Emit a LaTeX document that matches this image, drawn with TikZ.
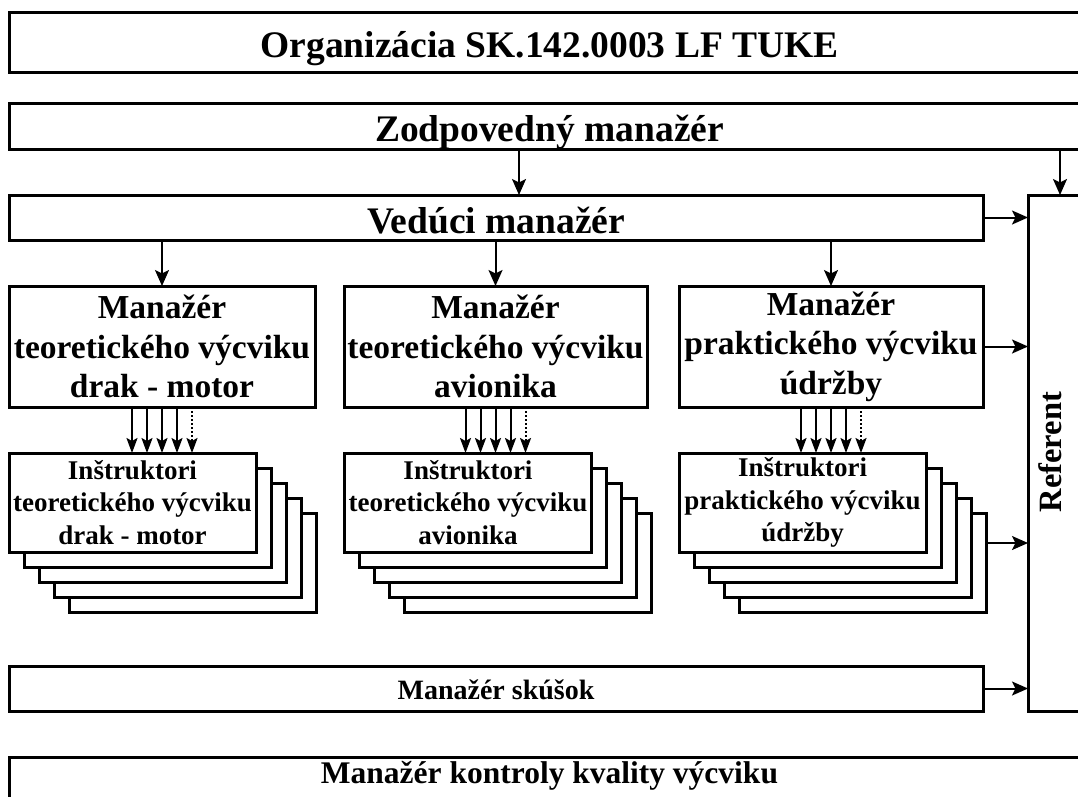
\documentclass[tikz,border=0pt]{standalone}
\usepackage{fontspec}
\setmainfont{Liberation Serif}
\usetikzlibrary{arrows.meta,calc}
\begin{document}
\begin{tikzpicture}[x=1pt,y=-1pt,
  box/.style={draw, line width=3pt, fill=white, rectangle, inner sep=0pt, outer sep=0pt, align=center},
  arr/.style={line width=2pt, -{Stealth[length=16pt,width=14pt,inset=3.5pt]}},
  sarr/.style={line width=2pt, -{Stealth[length=15pt,width=11pt,inset=3pt]}},
  dotarr/.style={sarr, dash pattern=on 2pt off 2pt},
  fbig/.style={font=\fontsize{37.5}{45}\selectfont\bfseries, text height=33pt, text depth=1.6pt},
  fmgr/.style={font=\fontsize{33.5}{39.5}\selectfont\bfseries},
  fins/.style={font=\fontsize{27}{32.5}\selectfont\bfseries},
  fmid/.style={font=\fontsize{28}{33}\selectfont\bfseries, text height=23pt, text depth=2pt},
  fkon/.style={font=\fontsize{31.5}{37}\selectfont\bfseries},
  fref/.style={font=\fontsize{32.5}{38}\selectfont\bfseries},
]
\useasboundingbox (0,0) rectangle (1078,796);
\fill[white] (0,0) rectangle (1078,796);
\clip (0,0) rectangle (1078,796);

% top boxes
\node[box, fbig, minimum width=1081pt, minimum height=60pt] (org) at (549.5,42) {Organizácia SK.142.0003 LF TUKE};
\node[box, fbig, minimum width=1081pt, minimum height=46pt] (zm) at (549.5,126) {Zodpovedný manažér};
\node[box, fbig, minimum width=974pt, minimum height=45pt] (vm) at (496,217.5) {Vedúci manažér};

% referent
\node[box, minimum width=62pt, minimum height=516pt] (ref) at (1059,453) {};
\node[fref, rotate=90] (reft) at (1050,452) {Referent};

% managers
\node[box, fmgr, minimum width=306pt, minimum height=121pt] (m1) at (162,346.5) {Manažér\\teoretického výcviku\\drak - motor};
\node[box, fmgr, minimum width=303pt, minimum height=121pt] (m2) at (495.5,346.5) {Manažér\\teoretického výcviku\\avionika};
\node[box, fmgr, minimum width=304pt, minimum height=121pt] (m3) at (831,346.5) {Manažér\\praktického výcviku\\údržby};

% instructor stacks
\foreach \n/\cx in {1/132.5, 2/468, 3/802.5}{
  \foreach \k in {4,3,2,1}{
    \node[box, minimum width=247pt, minimum height=99pt] (i\n l\k) at (\cx+15*\k, 502.5+15*\k) {};
  }
}
\node[box, fins, minimum width=247pt, minimum height=99pt] (i1) at (132.5,502.5) {Inštruktori\\teoretického výcviku\\drak - motor};
\node[box, fins, minimum width=247pt, minimum height=99pt] (i2) at (468,502.5) {Inštruktori\\teoretického výcviku\\avionika};
\node[box, fins, minimum width=247pt, minimum height=99pt] (i3) at (802.5,502.5) {Inštruktori\\praktického výcviku\\údržby};

% exams
\node[box, fmid, minimum width=974pt, minimum height=45pt] (sk) at (496,688.5) {Manažér skúšok};

% quality
\node[box, minimum width=1081pt, minimum height=80pt] (kk) at (549.5,797) {};
\node[fkon, anchor=base] (kt) at (549.5,783) {Manažér kontroly kvality výcviku};

% connectors
\coordinate (a1) at (519,0);
\coordinate (a2) at (1060,0);
\draw[arr] (zm.south -| a1) -- (vm.north -| a1);
\draw[arr] (zm.south -| a2) -- (ref.north -| a2);
\draw[arr] (vm.east) -- (vm.east -| ref.west);
\foreach \m in {m1,m2,m3}{
  \draw[arr] (vm.south -| \m.north) -- (\m.north);
}
\foreach \m/\i in {m1/i1,m2/i2,m3/i3}{
  \foreach \o in {-30,-15,0,15}{
    \draw[sarr] ([xshift=\o pt]\m.south) -- ([xshift=\o pt]\m.south |- \i.north);
  }
  \draw[dotarr] ([xshift=30pt]\m.south) -- ([xshift=30pt]\m.south |- \i.north);
}
\draw[arr] (m3.east) -- (m3.east -| ref.west);
\draw[arr] ([yshift=19.5pt]i3l4.east) -- ([yshift=19.5pt]i3l4.east -| ref.west);
\draw[arr] (sk.east) -- (sk.east -| ref.west);
\end{tikzpicture}
\end{document}
